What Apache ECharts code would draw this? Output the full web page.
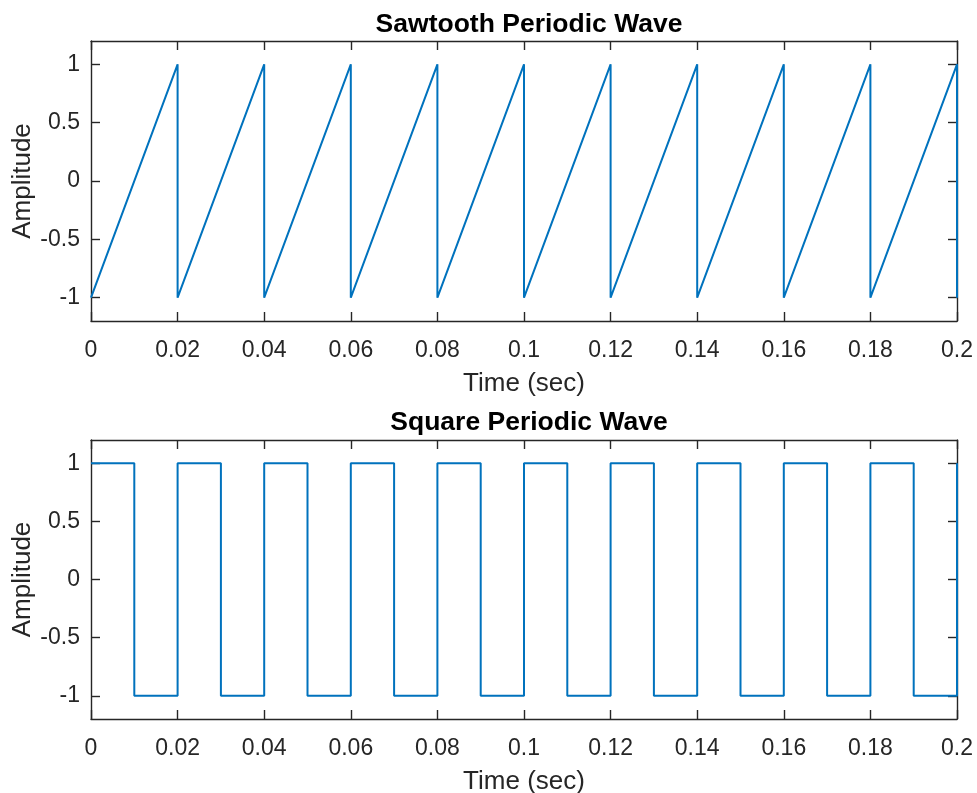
<!DOCTYPE html>
<html>
<head>
<meta charset="utf-8">
<script src="https://cdn.jsdelivr.net/npm/echarts@6/dist/echarts.min.js"></script>
<style>
html,body{margin:0;padding:0;background:#fff;}
#chart{width:977px;height:793px;}
</style>
</head>
<body>
<div id="chart"></div>
<script>
// ---- data ----
var sawTime = [0, 0.02, 0.02, 0.04, 0.04, 0.06, 0.06, 0.08, 0.08, 0.1, 0.1, 0.12, 0.12, 0.14, 0.14, 0.16, 0.16, 0.18, 0.18, 0.2, 0.2];
var sawAmp  = [-1, 1, -1, 1, -1, 1, -1, 1, -1, 1, -1, 1, -1, 1, -1, 1, -1, 1, -1, 1, -1];

var sqTime = [0, 0.01, 0.01, 0.02, 0.02, 0.03, 0.03, 0.04, 0.04, 0.05, 0.05, 0.06, 0.06, 0.07, 0.07, 0.08, 0.08, 0.09, 0.09, 0.1, 0.1, 0.11, 0.11, 0.12, 0.12, 0.13, 0.13, 0.14, 0.14, 0.15, 0.15, 0.16, 0.16, 0.17, 0.17, 0.18, 0.18, 0.19, 0.19, 0.2, 0.2];
var sqAmp  = [1, 1, -1, -1, 1, 1, -1, -1, 1, 1, -1, -1, 1, 1, -1, -1, 1, 1, -1, -1, 1, 1, -1, -1, 1, 1, -1, -1, 1, 1, -1, -1, 1, 1, -1, -1, 1, 1, -1, -1, 1];

var xTicks = [0, 0.02, 0.04, 0.06, 0.08, 0.1, 0.12, 0.14, 0.16, 0.18, 0.2];
var yTicks = [-1, -0.5, 0, 0.5, 1];

var titles = ['Sawtooth Periodic Wave', 'Square Periodic Wave'];
var xLabel = 'Time (sec)';
var yLabel = 'Amplitude';

// ---- chart ----
var FONT = "'Liberation Sans', Arial, Helvetica, sans-serif";
var AX = '#262626';
var LINE = '#0072BD';

function pairs(t, v) { return t.map(function (x, i) { return [x, v[i]]; }); }

var grids = [
  { left: 91, top: 41, width: 866, height: 280, containLabel: false, outerBoundsMode: 'none' },
  { left: 91, top: 440, width: 866, height: 279, containLabel: false, outerBoundsMode: 'none' }
];

var xAxes = [], yAxes = [];
grids.forEach(function (g, gi) {
  var base = {
    gridIndex: gi, type: 'value', min: 0, max: 0.2,
    splitLine: { show: false },
    axisLine: { show: true, onZero: false, lineStyle: { color: AX, width: 1.4 } },
    axisTick: { show: true, inside: true, length: 9, customValues: xTicks, lineStyle: { color: AX, width: 1.4 } }
  };
  xAxes.push(Object.assign({}, base, {
    position: 'bottom',
    name: xLabel, nameLocation: 'middle', nameGap: 50, nameMoveOverlap: false,
    nameTextStyle: { color: AX, fontFamily: FONT, fontSize: 26 },
    axisLabel: { show: true, customValues: xTicks, margin: 18, color: AX, fontFamily: FONT, fontSize: 23,
      formatter: function (v) { return String(+v.toFixed(4)); } }
  }));
  xAxes.push(Object.assign({}, base, { position: 'top', axisLabel: { show: false } }));

  var ybase = {
    gridIndex: gi, type: 'value', min: -1.2, max: 1.2,
    splitLine: { show: false },
    axisLine: { show: true, onZero: false, lineStyle: { color: AX, width: 1.4 } },
    axisTick: { show: true, inside: true, length: 9, customValues: yTicks, lineStyle: { color: AX, width: 1.4 } }
  };
  yAxes.push(Object.assign({}, ybase, {
    position: 'left',
    name: yLabel, nameLocation: 'middle', nameGap: 55, nameRotate: 90, nameMoveOverlap: false,
    nameTextStyle: { color: AX, fontFamily: FONT, fontSize: 26 },
    axisLabel: { show: true, customValues: yTicks, margin: 11, color: AX, fontFamily: FONT, fontSize: 23,
      formatter: function (v) { return String(+v.toFixed(4)); } }
  }));
  yAxes.push(Object.assign({}, ybase, { position: 'right', axisLabel: { show: false } }));
});

var option = {
  animation: false,
  backgroundColor: '#ffffff',
  title: [
    { text: titles[0], left: 524, top: 6, textAlign: 'center',
      textStyle: { color: '#000', fontFamily: FONT, fontSize: 26.5, fontWeight: 'bold' } },
    { text: titles[1], left: 524, top: 404, textAlign: 'center',
      textStyle: { color: '#000', fontFamily: FONT, fontSize: 26.5, fontWeight: 'bold' } }
  ],
  grid: grids,
  xAxis: xAxes,
  yAxis: yAxes,
  series: [
    { type: 'line', xAxisIndex: 0, yAxisIndex: 0, data: pairs(sawTime, sawAmp),
      showSymbol: false, lineStyle: { color: LINE, width: 2 } },
    { type: 'line', xAxisIndex: 2, yAxisIndex: 2, data: pairs(sqTime, sqAmp),
      showSymbol: false, lineStyle: { color: LINE, width: 2 } }
  ]
};

var chart = echarts.init(document.getElementById('chart'), null, { renderer: 'canvas' });
chart.setOption(option);
</script>
</body>
</html>
